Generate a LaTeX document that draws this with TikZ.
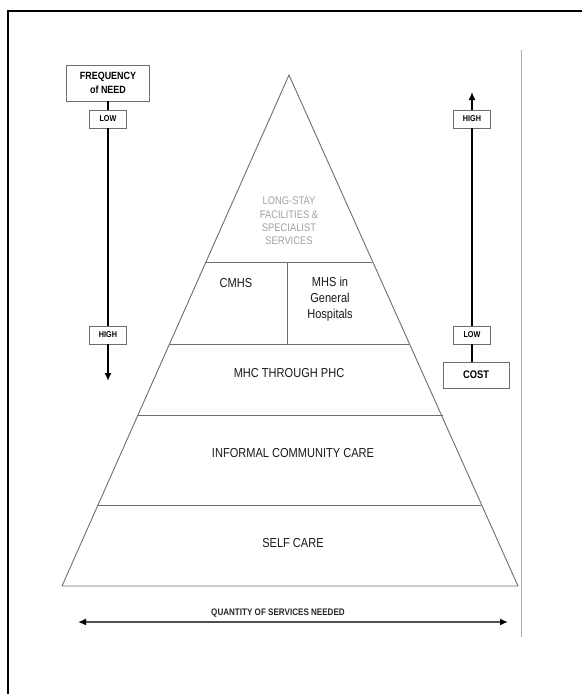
\documentclass[tikz,border=0pt]{standalone}
\usepackage{fontspec}
\setmainfont{Liberation Sans}[FakeStretch=0.85]
\usetikzlibrary{arrows.meta}
\definecolor{edge}{HTML}{6E6E6E}
\definecolor{pale}{HTML}{A0A0A0}
\definecolor{marginred}{HTML}{EE8E8E}
\definecolor{shaft}{HTML}{505050}

\tikzset{
  tier/.style={inner sep=0pt, align=center, text=black!90, font=\fontsize{13}{16}\selectfont},
  lvlbox/.style={draw=edge, line width=0.8pt, minimum width=37pt, minimum height=18pt,
    inner sep=0pt, font=\bfseries\fontsize{8.5}{9}\selectfont},
  headbox/.style={draw=edge, line width=0.8pt, inner sep=0pt, align=center},
  scale arrow/.style={line width=1.6pt, -{Latex[length=8pt,width=7pt]}}
}

\begin{document}
\begin{tikzpicture}[x=1pt,y=-1pt]
\useasboundingbox (0,0) rectangle (582,694);
% frame and margin rule
\draw[line width=1.5pt] (8,694) -- (8,11) -- (582,11);
\draw[marginred, line width=0.9pt] (521,50) -- (521,637);

% pyramid
\coordinate (apex) at (289,75);
\coordinate (baseL) at (62,586);
\coordinate (baseR) at (518,586);
\draw[edge, line width=0.9pt] (apex) -- (baseR) -- (baseL) -- cycle;
\draw[edge, line width=0.9pt] (206,262) -- (372,262);
\draw[edge, line width=0.9pt] (169,344) -- (409,344);
\draw[edge, line width=0.9pt] (137,415) -- (443,415);
\draw[edge, line width=0.9pt] (97,505) -- (481,505);
\draw[edge, line width=0.9pt] (287,262) -- (287,344);

\node[tier, text=pale, font=\fontsize{11}{13.3}\selectfont] (longstay) at (289,221) {LONG-STAY\\FACILITIES \&\\SPECIALIST\\SERVICES};
\node[tier] (cmhs) at (236,283) {CMHS};
\node[tier] (mhs) at (330,299) {MHS in\\General\\Hospitals};
\node[tier] (mhc) at (289,373) {MHC THROUGH PHC};
\node[tier] (informal) at (293,453) {INFORMAL COMMUNITY CARE};
\node[tier] (selfcare) at (293,543) {SELF CARE};

% frequency scale
\node[headbox, minimum width=83pt, minimum height=36pt, font=\bfseries\fontsize{10.5}{14}\selectfont] (freq) at (108,83) {FREQUENCY\\of NEED};
\node[lvlbox] (lowL) at (108,119) {LOW};
\node[lvlbox] (highL) at (108,335) {HIGH};
\coordinate (tipL) at (108,381);
\draw[line width=1.6pt] (freq) -- (lowL);
\draw[line width=1.6pt] (lowL) -- (highL);
\draw[scale arrow] (highL) -- (tipL);

% cost scale
\coordinate (tipR) at (472,92);
\node[lvlbox] (highR) at (472,119) {HIGH};
\node[lvlbox] (lowR) at (472,335) {LOW};
\node[headbox, minimum width=66pt, minimum height=26pt, font=\bfseries\fontsize{11}{13}\selectfont] (cost) at (476,375) {COST};
\draw[line width=1.6pt] (cost.north -| lowR) -- (lowR);
\draw[line width=1.6pt] (lowR) -- (highR);
\draw[scale arrow] (highR) -- (tipR);

% quantity axis
\coordinate (qL) at (78,622);
\coordinate (qR) at (508,622);
\draw[shaft, line width=1.8pt, {Latex[length=8pt,width=7pt,black]}-{Latex[length=8pt,width=7pt,black]}] (qL) -- (qR);
\node[inner sep=0pt, font=\bfseries\fontsize{9.5}{11}\selectfont, text=black!85] (qty) at (278,613) {QUANTITY OF SERVICES NEEDED};
\end{tikzpicture}
\end{document}
